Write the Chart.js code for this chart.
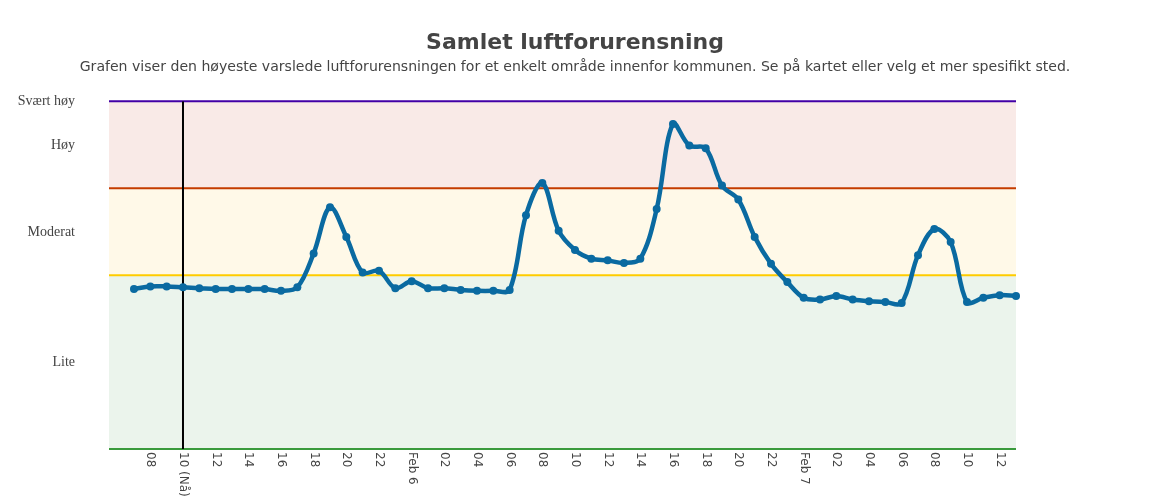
<!DOCTYPE html>
<html><head><meta charset="utf-8">
<style>html,body{margin:0;padding:0;background:#fff}#w{width:1150px;height:500px}</style>
<script src="https://cdn.jsdelivr.net/npm/chart.js@4"></script></head>
<body><div id="w"><canvas id="c"></canvas></div>
<script>
const pollution = [1.84,1.87,1.87,1.86,1.85,1.84,1.84,1.84,1.84,1.82,1.86,2.25,2.78,2.44,
  2.03,2.05,1.85,1.93,1.85,1.85,1.83,1.82,1.82,1.83,
  2.69,3.06,2.51,2.29,2.19,2.17,2.14,2.19,2.76,3.74,3.49,3.46,3.03,2.87,2.44,2.13,1.92,
  1.74,1.72,1.76,1.72,1.70,1.69,1.68,2.23,2.53,2.38,1.69,1.74,1.77,1.76];
const xTickLabels = ['08','10 (Nå)','12','14','16','18','20','22','Feb 6','02','04','06','08','10','12','14','16','18','20','22','Feb 7','02','04','06','08','10','12'];
const xTickHours = [1,3,5,7,9,11,13,15,17,19,21,23,25,27,29,31,33,35,37,39,41,43,45,47,49,51,53];
const yTickValues = [1,2.5,3.5,4];
const yTickLabels = ['Lite','Moderat','Høy','Svært høy'];
const nowHour = 3;
const xMin = -1.53, xMax = 54;
const title = 'Samlet luftforurensning';
const subtitle = 'Grafen viser den høyeste varslede luftforurensningen for et enkelt område innenfor kommunen. Se på kartet eller velg et mer spesifikt sted.';

const level = (y, line, fillColor, order) => ({
  data:[{x:xMin,y},{x:xMax,y}], borderColor:line, borderWidth:2, pointRadius:0,
  fill: fillColor ? {target:'-1', above:fillColor, below:fillColor} : false, clip:false, order, tension:0
});
const xTickPlugin = {
  id:'xTickText',
  afterDraw(chart){
    const s = chart.scales.x, ctx = chart.ctx;
    ctx.save();
    ctx.font = '12px "DejaVu Sans"';
    ctx.fillStyle = '#444';
    ctx.textAlign = 'left';
    ctx.textBaseline = 'middle';
    s.ticks.forEach(t=>{
      ctx.save();
      ctx.translate(s.getPixelForValue(t.value), chart.chartArea.bottom + 3);
      ctx.rotate(Math.PI/2);
      ctx.fillText(t.label, 0, 0);
      ctx.restore();
    });
    ctx.restore();
  }
};
new Chart(document.getElementById('c'),{
  type:'line',
  data:{datasets:[
    level(0,'#3a9a3c',null,10),
    level(2,'#ffcc00','#ebf4ec',9),
    level(3,'#c43c00','#fff9e8',8),
    level(4,'#4200a6','#f9eae7',7),
    {data:[{x:nowHour,y:0},{x:nowHour,y:4}],borderColor:'#000',borderWidth:2,pointRadius:0,fill:false,order:2},
    {data:pollution.map((y,x)=>({x,y})),borderColor:'#0a6aa1',backgroundColor:'#0a6aa1',borderWidth:4.5,
     pointRadius:4,pointBorderWidth:0,tension:0.35,fill:false,clip:false,order:1}
  ]},
  options:{
    responsive:true,maintainAspectRatio:false,animation:false,
    events:[],
    layout:{padding:0},
    plugins:{
      legend:{display:false},tooltip:{enabled:false},
      filler:{drawTime:'beforeDatasetsDraw'},
      title:{display:true,text:title,color:'#444',font:{family:'"DejaVu Sans"',size:22,weight:'bold'},padding:{top:30,bottom:0}},
      subtitle:{display:true,text:subtitle,color:'#444',font:{family:'"DejaVu Sans"',size:14.07},padding:{top:3,bottom:25}}
    },
    scales:{
      x:{type:'linear',min:xMin,max:xMax,grid:{display:false},border:{display:false},
        afterBuildTicks(a){a.ticks=xTickHours.map(value=>({value}));},
        ticks:{display:false,autoSkip:false,callback(v){return xTickLabels[xTickHours.indexOf(v)];}},
        afterFit(a){a.height=51;}},
      y:{min:0,max:4,grid:{display:false},border:{display:false},
        afterBuildTicks(a){a.ticks=yTickValues.map(value=>({value}));},
        ticks:{autoSkip:false,padding:26,labelOffset:0.5,color:'#444',font:{family:'"Liberation Serif"',size:14},
          callback(v){return yTickLabels[yTickValues.indexOf(v)];}},
        afterFit(a){a.width=109;}},
      margin:{position:'right',grid:{display:false},border:{display:false},ticks:{display:false},
        afterFit(a){a.width=134;}}
    }
  },
  plugins:[xTickPlugin]
});
</script></body></html>
